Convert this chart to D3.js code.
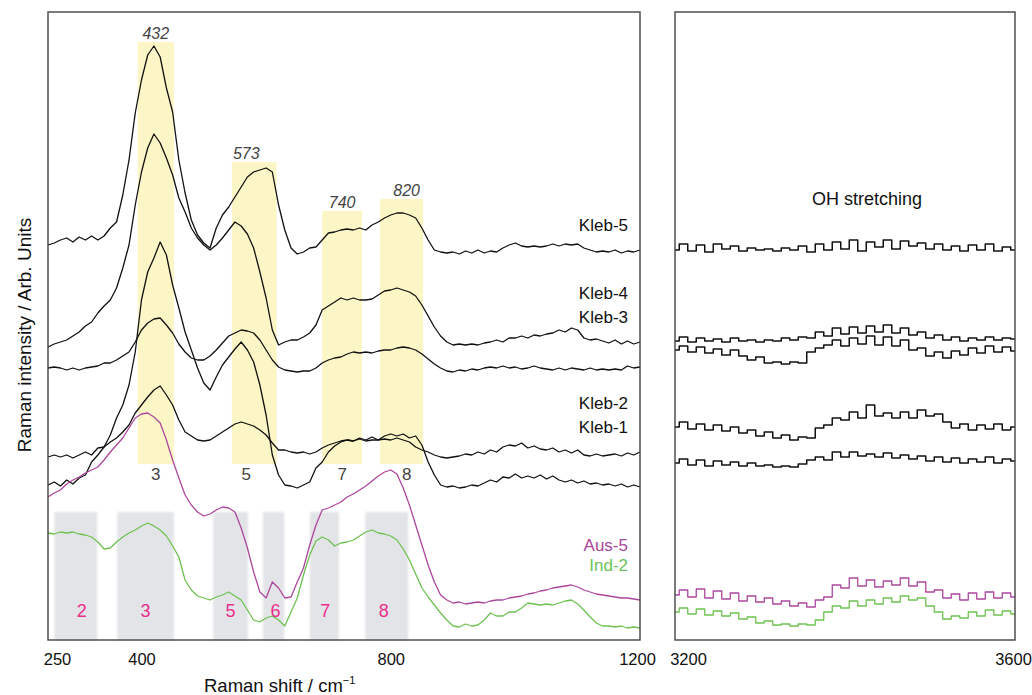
<!DOCTYPE html>
<html>
<head>
<meta charset="utf-8">
<script src="https://cdn.jsdelivr.net/npm/d3@7"></script>
<style>
  body { margin: 0; background: #fff; }
  text { font-family: Arial, "Liberation Sans", sans-serif; }
</style>
</head>
<body>
<div id="chart"></div>
<script>
// Raman shift sampling (cm-1)
const shiftLo = d3.range(250, 1201, 10);
const shiftHi = d3.range(3200, 3601, 10);

// intensities, arbitrary units (offset spectra), 250-1200 cm-1
const kleb5Lo = [395,397,400,402,398,403,400,404,400,404, 412,418,445,480,527,560,585,594,583,552,
  528,480,447,420,405,397,392,412,425,433, 443,453,463,468,470,472,468,435,410,392,
  386,388,392,393,400,407,408,410,411,410, 412,410,415,418,422,425,427,427,425,422,
  412,400,390,388,387,388,386,389,387,390, 387,389,388,392,395,397,394,393,394,393,
  394,396,394,396,395,396,392,390,388,389, 388,390,387,389,388,390];
const kleb4Lo = [293,296,298,300,304,308,314,318,327,334, 340,352,372,395,435,468,492,506,497,482,
  465,442,428,412,402,395,390,395,402,410, 418,414,406,392,368,342,310,295,298,300,
  300,303,307,315,330,334,338,342,340,342, 340,340,341,345,349,350,352,350,348,344,
  335,324,313,304,298,295,296,295,296,295, 297,298,300,298,302,302,304,302,305,304,
  306,307,310,308,312,310,302,300,301,299, 297,300,296,299,296,298];
const kleb3Lo = [272,273,272,270,272,270,272,273,274,277, 277,280,284,288,298,310,317,321,322,315,
  307,296,288,282,280,280,284,290,297,304, 307,310,309,307,300,290,280,273,270,269,
  268,269,269,272,277,280,282,283,286,288, 287,288,287,289,290,290,292,293,292,290,
  286,281,276,272,269,268,270,269,271,270, 272,273,272,274,272,273,271,272,274,272,
  271,270,272,270,272,271,270,272,270,271, 270,271,270,274,272,273];
const kleb2Lo = [183,185,183,185,182,185,188,185,192,193, 198,202,208,215,227,235,243,250,254,245,
  235,220,208,204,200,199,200,204,208,212, 216,218,216,214,210,205,197,190,190,188,
  187,188,186,188,192,195,197,199,200,199, 201,199,200,200,201,200,202,200,198,193,
  190,188,185,183,182,183,184,186,185,188, 186,190,188,193,195,194,197,192,194,191,
  190,192,188,190,187,190,185,184,186,184, 185,186,184,187,185,188];
const kleb1Lo = [155,158,154,160,156,162,165,178,185,193, 205,222,235,255,288,340,368,382,398,385,
  355,332,308,290,272,257,250,263,275,283, 291,298,290,278,255,225,185,165,155,154,
  152,155,158,172,178,188,194,198,200,199, 202,200,203,200,204,206,204,206,202,204,
  195,178,165,155,153,154,152,153,155,154, 157,160,158,163,162,166,162,164,162,165,
  161,164,160,158,160,157,159,156,157,155, 156,154,156,153,155,153];
const aus5Lo = [143,147,150,156,160,163,167,170,173,180, 188,195,202,212,222,226,227,223,217,200,
  180,162,145,135,128,124,126,130,133,132, 128,112,92,68,48,42,58,52,42,43,
  58,72,95,115,130,132,135,138,143,146, 150,154,159,164,168,170,166,152,135,115,
  95,75,58,45,40,37,38,36,37,38, 37,39,40,40,42,43,44,46,47,49,
  50,52,53,54,55,53,50,48,46,45, 44,43,42,42,41,40];
const ind2Lo = [107,106,108,107,108,106,105,103,98,91, 92,98,103,107,110,114,117,114,110,104,
  94,83,60,50,44,42,40,43,45,48, 44,40,30,20,18,22,24,20,14,28,
  42,65,85,99,103,100,94,97,98,100, 104,108,110,107,106,104,100,91,80,66,
  52,43,35,27,20,14,13,16,14,15, 20,27,24,24,28,28,32,37,36,35,
  36,35,37,39,40,36,30,23,17,14, 14,13,14,12,13,12];

// OH stretching region, 3200-3600 cm-1
const kleb5Hi = [390,396,389,395,388,396,391,394,389,392, 390,391,389,392,390,394,388,396,390,398,
  391,400,389,398,393,400,391,399,394,397, 391,396,390,394,389,395,390,396,389,393, 390];
const kleb4Hi = [299,303,298,302,299,301,298,302,299,300, 298,300,299,302,300,303,302,308,304,312,
  306,313,307,314,308,315,307,312,305,308, 302,305,300,303,299,302,300,303,300,302, 301];
const kleb3Hi = [290,294,288,293,287,291,285,290,284,280, 283,277,278,276,278,277,288,292,295,300,
  294,302,296,304,295,303,294,300,290,292, 284,288,282,289,285,292,287,294,288,293, 289];
const kleb2Hi = [213,218,211,216,210,215,209,213,207,210, 204,208,202,205,200,203,202,212,215,222,
  220,228,222,235,224,227,222,228,222,230, 224,226,218,212,216,210,215,211,216,210, 213];
const kleb1Hi = [177,181,175,180,174,179,175,178,174,177, 174,175,173,174,173,176,180,183,180,188,
  183,188,184,186,183,187,182,185,181,184, 179,183,178,182,177,181,178,183,177,181, 179];
const aus5Hi = [45,50,43,51,42,49,41,47,39,44, 38,42,36,39,34,37,33,40,43,55,
  52,62,54,60,53,59,55,62,54,58, 48,50,42,46,40,47,41,48,42,47, 43];
const ind2Hi = [28,32,26,31,25,29,24,27,21,23, 17,19,15,16,14,16,15,20,28,34,
  32,39,34,40,36,42,38,44,40,42, 34,28,21,24,22,28,24,30,25,29, 26];

// highlighted peaks (yellow) and band assignments (grey)
const peakNames = ["432", "573", "740", "820"];
const peakNums = ["3", "5", "7", "8"];
const peakFrom = [394, 545, 690, 783];
const peakTo = [452, 617, 754, 852];
const peakTop = [598, 478, 429, 441];
const peakBase = 176;
const bandNums = ["2", "3", "5", "6", "7", "8"];
const bandFrom = [260, 361, 515, 595, 670, 759];
const bandTo = [329, 452, 571, 629, 717, 828];
const bandTop = 128;

const xTicksLo = [250, 400, 800, 1200];
const xTicksHi = [3200, 3600];

const seriesNames = ["Kleb-5", "Kleb-4", "Kleb-3", "Kleb-2", "Kleb-1", "Aus-5", "Ind-2"];
const seriesLo = [kleb5Lo, kleb4Lo, kleb3Lo, kleb2Lo, kleb1Lo, aus5Lo, ind2Lo];
const seriesHi = [kleb5Hi, kleb4Hi, kleb3Hi, kleb2Hi, kleb1Hi, aus5Hi, ind2Hi];
const seriesColor = ["#111", "#111", "#111", "#111", "#111", "#ad479d", "#6ec251"];
const labelColor = ["#111", "#111", "#111", "#111", "#111", "#a8449a", "#6cc457"];
const labelBase = [231, 299, 323, 409, 433, 551, 571];

const width = 1032, height = 695;
const plotTop = 12, plotBottom = 640;

const xLo = d3.scaleLinear().domain([250, 1200]).range([48, 640]);
const xHi = d3.scaleLinear().domain([3200, 3600]).range([675, 1015]);
const y = d3.scaleLinear().domain([0, 628]).range([plotBottom, plotTop]);

const svg = d3.select("#chart")
  .append("svg")
  .attr("width", width)
  .attr("height", height);

svg.append("defs").append("filter")
  .attr("id", "soft")
  .append("feGaussianBlur")
  .attr("stdDeviation", 1.2);

// yellow peak boxes
svg.selectAll(".peak")
  .data(peakNames)
  .enter().append("rect")
  .attr("class", "peak")
  .attr("x", (d, i) => xLo(peakFrom[i]))
  .attr("width", (d, i) => xLo(peakTo[i]) - xLo(peakFrom[i]))
  .attr("y", (d, i) => y(peakTop[i]))
  .attr("height", (d, i) => y(peakBase) - y(peakTop[i]))
  .attr("fill", "#fcf6c6");

// grey band boxes
svg.selectAll(".band")
  .data(bandNums)
  .enter().append("rect")
  .attr("class", "band")
  .attr("x", (d, i) => xLo(bandFrom[i]))
  .attr("width", (d, i) => xLo(bandTo[i]) - xLo(bandFrom[i]))
  .attr("y", y(bandTop))
  .attr("height", y(0) - y(bandTop))
  .attr("fill", "#e2e4e7")
  .attr("filter", "url(#soft)");

// spectra: low range drawn as plain lines, OH range as steps
function drawSpectra(x, xs, list, curve, blackWidth) {
  list.forEach((vals, i) => {
    const pts = vals.map((v, j) => [xs[j], v]);
    svg.append("path")
      .datum(pts)
      .attr("fill", "none")
      .attr("stroke", seriesColor[i])
      .attr("stroke-width", i < 5 ? blackWidth : 1.3)
      .attr("stroke-linejoin", "round")
      .attr("d", d3.line()
        .curve(curve)
        .x(d => x(d[0]))
        .y(d => y(d[1])));
  });
}
drawSpectra(xLo, shiftLo, seriesLo, d3.curveLinear, 1.3);
drawSpectra(xHi, shiftHi, seriesHi, d3.curveStep, 1.5);

// frames
svg.append("rect")
  .attr("x", 48).attr("y", plotTop)
  .attr("width", 640 - 48).attr("height", plotBottom - plotTop)
  .attr("fill", "none").attr("stroke", "#444").attr("stroke-width", 1.4);
svg.append("rect")
  .attr("x", 675).attr("y", plotTop)
  .attr("width", 1015 - 675).attr("height", plotBottom - plotTop)
  .attr("fill", "none").attr("stroke", "#444").attr("stroke-width", 1.4);

// axes (labels only)
const axLo = svg.append("g")
  .attr("transform", `translate(0,${plotBottom})`)
  .call(d3.axisBottom(xLo).tickValues(xTicksLo).tickSize(0).tickPadding(13).tickFormat(d3.format("d")));
const axHi = svg.append("g")
  .attr("transform", `translate(0,${plotBottom})`)
  .call(d3.axisBottom(xHi).tickValues(xTicksHi).tickSize(0).tickPadding(13).tickFormat(d3.format("d")));
[axLo, axHi].forEach(ax => {
  ax.select(".domain").remove();
  ax.selectAll("text")
    .attr("font-family", "Arial, 'Liberation Sans', sans-serif")
    .attr("font-size", 16.5)
    .attr("fill", "#111");
});
axLo.selectAll("text").filter(d => d === 250).attr("dx", 9);
axLo.selectAll("text").filter(d => d === 1200).attr("dx", -3);
axHi.selectAll("text").filter(d => d === 3200).attr("dx", 13);
axHi.selectAll("text").filter(d => d === 3600).attr("dx", -2);

// axis titles
const xt = svg.append("text")
  .attr("x", 204).attr("y", 692)
  .attr("font-size", 18.5)
  .attr("fill", "#111")
  .text("Raman shift / cm");
xt.append("tspan")
  .attr("font-size", 11)
  .attr("dy", -8)
  .text("\u22121");

svg.append("text")
  .attr("transform", "translate(31,335) rotate(-90)")
  .attr("text-anchor", "middle")
  .attr("font-size", 19)
  .attr("fill", "#111")
  .text("Raman intensity / Arb. Units");

// peak labels
const peakNudge = [0, -8, 0, 5];
svg.selectAll(".peakname")
  .data(peakNames)
  .enter().append("text")
  .attr("class", "peakname")
  .attr("x", (d, i) => (xLo(peakFrom[i]) + xLo(peakTo[i])) / 2 + peakNudge[i])
  .attr("y", (d, i) => y(peakTop[i]) - 3)
  .attr("text-anchor", "middle")
  .attr("font-size", 16)
  .attr("font-style", "italic")
  .attr("fill", "#444")
  .text(d => d);

svg.selectAll(".peaknum")
  .data(peakNums)
  .enter().append("text")
  .attr("class", "peaknum")
  .attr("x", (d, i) => (xLo(peakFrom[i]) + xLo(peakTo[i])) / 2 + peakNudge[i])
  .attr("y", 480)
  .attr("text-anchor", "middle")
  .attr("font-size", 17)
  .attr("fill", "#444")
  .text(d => d);

const bandNudge = [6, 0, 0, 2, 1, -3];
svg.selectAll(".bandnum")
  .data(bandNums)
  .enter().append("text")
  .attr("class", "bandnum")
  .attr("x", (d, i) => (xLo(bandFrom[i]) + xLo(bandTo[i])) / 2 + bandNudge[i])
  .attr("y", 617)
  .attr("text-anchor", "middle")
  .attr("font-size", 18)
  .attr("fill", "#ec2d8c")
  .text(d => d);

// series names
svg.selectAll(".sname")
  .data(seriesNames)
  .enter().append("text")
  .attr("class", "sname")
  .attr("x", 628)
  .attr("y", (d, i) => labelBase[i])
  .attr("text-anchor", "end")
  .attr("font-size", 17)
  .attr("fill", (d, i) => labelColor[i])
  .text(d => d);

svg.append("text")
  .attr("x", 867).attr("y", 205)
  .attr("text-anchor", "middle")
  .attr("font-size", 18)
  .attr("fill", "#111")
  .text("OH stretching");
</script>
</body>
</html>
